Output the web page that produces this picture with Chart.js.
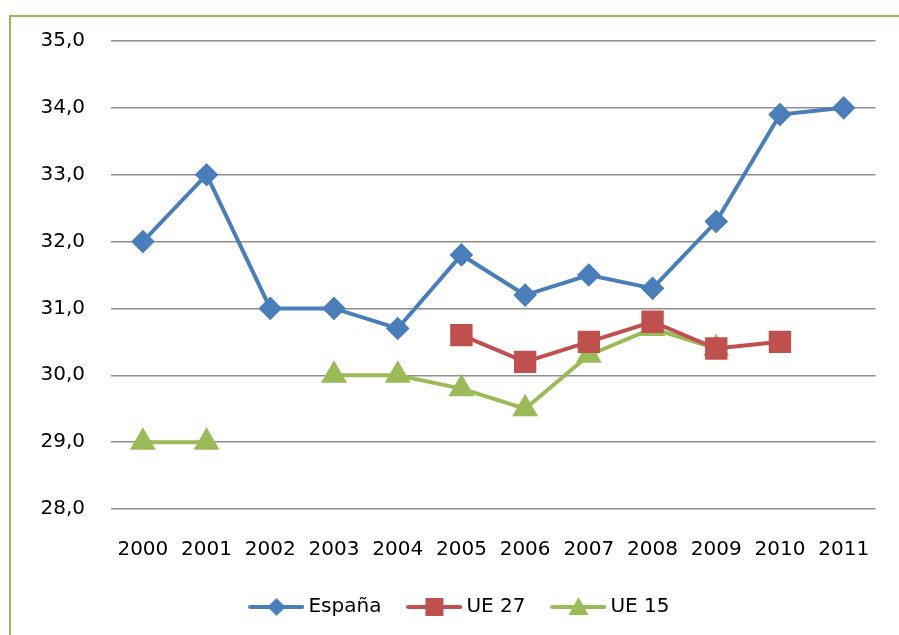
<!DOCTYPE html>
<html>
<head>
<meta charset="utf-8">
<script src="https://cdn.jsdelivr.net/npm/chart.js@4.4.1/dist/chart.umd.min.js"></script>
<style>
  html, body { margin: 0; padding: 0; background: #fff; overflow: hidden; }
  #wrap { position: relative; width: 899px; height: 635px; }
  #frame { position: absolute; left: 9px; top: 15px; width: 1000px; height: 1000px;
           border-left: 2px solid #9bbb59; border-top: 2px solid #9bbb59; }
  canvas { position: absolute; left: 0; top: 0; }
</style>
</head>
<body>
<div id="wrap">
  <div id="frame"></div>
  <canvas id="myChart" width="899" height="635"></canvas>
</div>
<script>
var years = ['2000', '2001', '2002', '2003', '2004', '2005', '2006', '2007', '2008', '2009', '2010', '2011'];
var espana = [32.0, 33.0, 31.0, 31.0, 30.7, 31.8, 31.2, 31.5, 31.3, 32.3, 33.9, 34.0];
var ue27 = [null, null, null, null, null, 30.6, 30.2, 30.5, 30.8, 30.4, 30.5, null];
var ue15 = [29.0, 29.0, null, 30.0, 30.0, 29.8, 29.5, 30.3, 30.7, 30.4, null, null];

var blue = '#4a7ebb';
var red = '#c0504d';
var green = '#9bbb59';

// little legend icons: line with the marker in the middle
function legendIcon(color, shape) {
  var c = document.createElement('canvas');
  c.width = 56; c.height = 22;
  var g = c.getContext('2d');
  g.strokeStyle = color;
  g.fillStyle = color;
  g.lineWidth = 4;
  g.lineCap = 'round';
  g.beginPath(); g.moveTo(2, 11); g.lineTo(54, 11); g.stroke();
  g.beginPath();
  if (shape == 'diamond') {
    g.moveTo(28, 2); g.lineTo(37, 11); g.lineTo(28, 20); g.lineTo(19, 11);
  } else if (shape == 'square') {
    g.rect(19, 2, 18, 18);
  } else {
    g.moveTo(28, 1); g.lineTo(38, 19); g.lineTo(18, 19);
  }
  g.closePath(); g.fill();
  return c;
}

var icons = [legendIcon(blue, 'diamond'), legendIcon(red, 'square'), legendIcon(green, 'triangle')];

// nudge the legend row to the right, like the original
var legendShift = {
  id: 'legendShift',
  afterLayout: function(ch) {
    ch.legend.left += 23;
    ch.legend.right += 23;
  }
};

var ctx = document.getElementById('myChart').getContext('2d');
var chart = new Chart(ctx, {
  type: 'line',
  data: {
    labels: years,
    datasets: [{
      label: 'España',
      data: espana,
      borderColor: blue,
      backgroundColor: blue,
      borderWidth: 4,
      pointStyle: 'rectRot',
      pointRadius: 9,
      pointHoverRadius: 9
    }, {
      label: 'UE 27',
      data: ue27,
      borderColor: red,
      backgroundColor: red,
      borderWidth: 4,
      pointStyle: 'rect',
      pointRadius: 13,
      pointHoverRadius: 13
    }, {
      label: 'UE 15',
      data: ue15,
      borderColor: green,
      backgroundColor: green,
      borderWidth: 4,
      pointStyle: 'triangle',
      pointRadius: 11,
      pointHoverRadius: 11
    }]
  },
  plugins: [legendShift],
  options: {
    responsive: false,
    animation: false,
    spanGaps: false,
    layout: { padding: { left: 0, right: 21, top: 41, bottom: 8 } },
    elements: { line: { tension: 0 } },
    font: { family: 'DejaVu Sans', size: 20 },
    scales: {
      x: {
        offset: true,
        grid: { display: false, drawTicks: false },
        border: { display: false },
        ticks: { color: '#000', padding: 29, font: { family: 'DejaVu Sans', size: 20 }, maxRotation: 0 },
        afterFit: function(scale) { scale.height = 57; }
      },
      y: {
        min: 28,
        max: 35,
        grid: { color: '#8e8e8e', lineWidth: 1.5, drawTicks: false },
        border: { display: false },
        ticks: {
          stepSize: 1,
          color: '#000',
          padding: 26,
          font: { family: 'DejaVu Sans', size: 20 },
          callback: function(v) { return v.toFixed(1).replace('.', ','); }
        },
        afterFit: function(scale) { scale.width = 111; }
      }
    },
    plugins: {
      tooltip: { enabled: false },
      legend: {
        position: 'bottom',
        labels: {
          color: '#000',
          font: { family: 'DejaVu Sans', size: 20 },
          usePointStyle: true,
          pointStyleWidth: 44,
          padding: 31,
          generateLabels: function(ch) {
            return ch.data.datasets.map(function(ds, i) {
              return {
                text: ds.label,
                pointStyle: icons[i],
                fillStyle: ds.borderColor,
                strokeStyle: ds.borderColor,
                lineWidth: 0,
                hidden: false,
                datasetIndex: i
              };
            });
          }
        }
      }
    }
  }
});
</script>
</body>
</html>
